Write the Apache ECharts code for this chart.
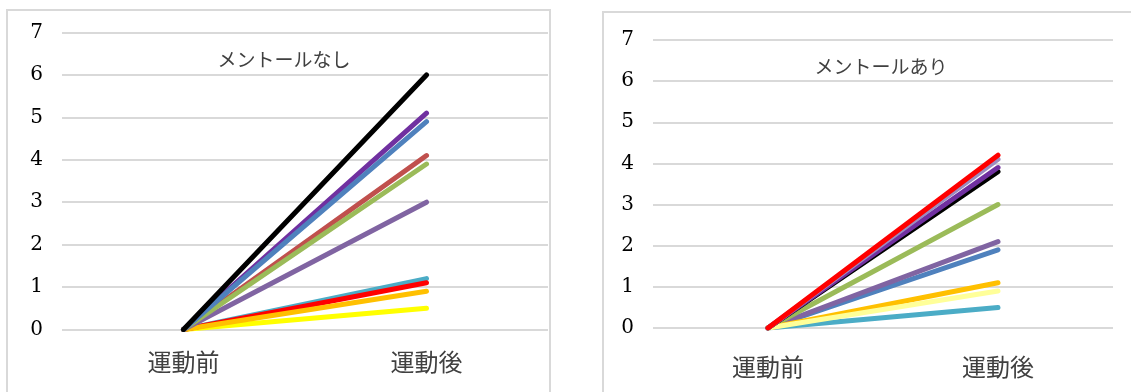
<!DOCTYPE html>
<html>
<head>
<meta charset="utf-8">
<script src="https://cdn.jsdelivr.net/npm/echarts@6/dist/echarts.min.js"></script>
<style>
  html, body { margin: 0; padding: 0; background: #fff; overflow: hidden; }
  #wrap { position: relative; width: 1131px; height: 392px; }
  .frame { position: absolute; border: 2px solid #D9D9D9; box-sizing: border-box; }
  #chart { position: absolute; left: 0; top: 0; width: 1131px; height: 392px; }
</style>
</head>
<body>
<div id="wrap">
  <div class="frame" style="left:6px; top:9px; width:545px; height:500px;"></div>
  <div class="frame" style="left:602px; top:11px; width:600px; height:500px;"></div>
  <div id="chart"></div>
</div>
<script>
// ---- data ----
const categories = ['運動前', '運動後'];
const titles = ['メントールなし', 'メントールあり'];
const yMin = 0, yMax = 7, yStep = 1;

// メントールなし (left chart): values before / after exercise
const nashiBefore = [0, 0, 0, 0, 0, 0, 0, 0, 0, 0];
const nashiAfter  = [0.5, 1.2, 1.1, 0.9, 3.0, 4.1, 3.9, 5.1, 4.9, 6.0];
// メントールあり (right chart)
const ariBefore = [0, 0, 0, 0, 0, 0, 0, 0, 0, 0];
const ariAfter  = [0.5, 1.9, 2.1, 3.0, 1.1, 0.9, 3.8, 3.9, 4.1, 4.2];

// ---- styles ----
const nashiColors = ['#FFFF00', '#4BACC6', '#FF0000', '#FFC000', '#8064A2', '#C0504D', '#9BBB59', '#7030A0', '#4F81BD', '#000000'];
const ariColors   = ['#4BACC6', '#4F81BD', '#8064A2', '#9BBB59', '#FFC000', '#FFFF99', '#000000', '#7030A0', '#9C8DC0', '#FF0000'];

const chart = echarts.init(document.getElementById('chart'), null, { renderer: 'canvas' });

function makeSeries(before, after, colors, idx) {
  return before.map((b, i) => ({
    type: 'line',
    xAxisIndex: idx,
    yAxisIndex: idx,
    data: [b, after[i]],
    symbol: 'none',
    silent: true,
    lineStyle: { color: colors[i], width: 5, cap: 'round', join: 'round' },
    z: 2 + i
  }));
}

const yAxisBase = {
  type: 'value', min: yMin, max: yMax, interval: yStep,
  axisLine: { show: false }, axisTick: { show: false },
  axisLabel: { fontFamily: 'DejaVu Serif', fontSize: 20, color: '#000', margin: 19 },
  splitLine: { lineStyle: { color: '#D9D9D9', width: 2 } }
};
const xAxisBase = {
  type: 'category', data: categories, boundaryGap: true,
  axisLine: { show: false }, axisTick: { show: false },
  axisLabel: { fontFamily: 'Noto Sans CJK JP', fontSize: 24, color: '#404040' }
};

chart.setOption({
  animation: false,
  backgroundColor: 'transparent',
  title: [
    { text: titles[0], left: 279, top: 45, textAlign: 'center',
      textStyle: { fontFamily: 'Noto Sans CJK JP', fontSize: 19, fontWeight: 'normal', color: '#404040' } },
    { text: titles[1], left: 876, top: 52, textAlign: 'center',
      textStyle: { fontFamily: 'Noto Sans CJK JP', fontSize: 19, fontWeight: 'normal', color: '#404040' } }
  ],
  grid: [
    { left: 62, right: 1131 - 548, top: 32.5, height: 297, containLabel: false },
    { left: 653, right: 1131 - 1113, top: 40, height: 288, containLabel: false }
  ],
  xAxis: [
    Object.assign({}, xAxisBase, { gridIndex: 0, axisLabel: Object.assign({}, xAxisBase.axisLabel, { margin: 20 }) }),
    Object.assign({}, xAxisBase, { gridIndex: 1, axisLabel: Object.assign({}, xAxisBase.axisLabel, { margin: 27 }) })
  ],
  yAxis: [
    Object.assign({}, yAxisBase, { gridIndex: 0 }),
    Object.assign({}, yAxisBase, { gridIndex: 1 })
  ],
  series: makeSeries(nashiBefore, nashiAfter, nashiColors, 0)
    .concat(makeSeries(ariBefore, ariAfter, ariColors, 1))
});
</script>
</body>
</html>
